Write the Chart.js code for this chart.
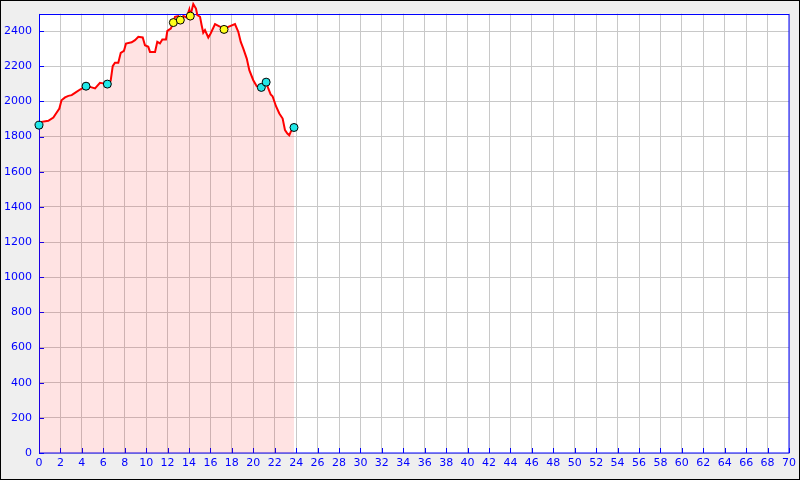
<!DOCTYPE html>
<html><head><meta charset="utf-8">
<script src="https://cdn.jsdelivr.net/npm/chart.js@4"></script>
<style>html,body{margin:0;padding:0;background:#efefef}#wrap{width:800px;height:480px}</style>
</head><body><div id="wrap"><canvas id="c" width="800" height="480"></canvas></div>
<script>
// Distance (km) and elevation (m) of the profile
const distance = [0,0.25,0.87,1.34,1.59,1.9,2.1,2.43,2.74,3.05,3.36,3.83,4.39,4.76,5.23,5.69,6.0,6.38,6.69,6.88,7.09,7.4,7.63,7.93,8.12,8.65,8.96,9.27,9.68,9.89,10.2,10.36,10.83,11.04,11.29,11.51,11.85,11.98,12.3,12.54,12.69,13.0,13.19,13.47,13.78,14.03,14.12,14.4,14.65,14.78,15.03,15.18,15.33,15.49,15.8,16.02,16.43,16.83,17.27,17.67,18.29,18.6,18.83,19.07,19.39,19.63,20.0,20.32,20.75,21.1,21.2,21.4,21.62,21.8,22.12,22.43,22.74,22.96,23.18,23.36,23.5,23.8];
const elevation = [1865,1884,1890,1909,1932,1960,2007,2023,2032,2036,2049,2068,2087,2083,2074,2106,2103,2099,2118,2201,2220,2220,2277,2288,2330,2337,2349,2368,2364,2320,2311,2282,2282,2339,2330,2353,2353,2402,2415,2449,2482,2486,2463,2486,2478,2523,2486,2554,2529,2491,2482,2434,2391,2406,2364,2387,2440,2428,2410,2425,2440,2396,2339,2301,2244,2178,2121,2087,2080,2103,2110,2074,2040,2030,1973,1932,1903,1837,1818,1808,1828,1852];
// Waypoint markers
const cyanX = [0,4.39,6.38,20.75,21.2,23.8];
const cyanY = [1865,2087,2099,2080,2110,1852];
const yellowX = [12.54,13.19,14.12,17.27];
const yellowY = [2449,2463,2486,2410];
// Axis ranges / ticks
const xMin = 0, xMax = 70, xStep = 2;
const yMin = 0, yMax = 2500, yStep = 200;

const AXIS = '#0000ff';
const frame = {
  id:'frame',
  beforeDraw(chart){
    const ctx=chart.ctx; ctx.save();
    ctx.fillStyle='#efefef'; ctx.fillRect(0,0,chart.width,chart.height);
    const a=chart.chartArea;
    ctx.fillStyle='#ffffff'; ctx.fillRect(a.left,a.top,a.right-a.left,a.bottom-a.top);
    ctx.restore();
  },
  beforeDatasetsDraw(chart){
    const ctx=chart.ctx, a=chart.chartArea; ctx.save();
    ctx.strokeStyle=AXIS; ctx.lineWidth=1;
    ctx.strokeRect(Math.round(a.left)+0.5,Math.round(a.top)+0.5,Math.round(a.right-a.left)-1+0.5,Math.round(a.bottom-a.top)-0.5);
    ctx.beginPath();
    const xs=chart.scales.x, ys=chart.scales.y;
    xs.ticks.forEach(t=>{const p=Math.round(xs.getPixelForValue(t.value))+0.5; ctx.moveTo(p,a.bottom); ctx.lineTo(p,a.bottom-5);});
    ys.ticks.forEach(t=>{const p=Math.round(ys.getPixelForValue(t.value))+0.5; ctx.moveTo(a.left,p); ctx.lineTo(a.left+5,p);});
    ctx.stroke();
    ctx.restore();
  },
  afterDraw(chart){
    const ctx=chart.ctx; ctx.save();
    ctx.strokeStyle='#000'; ctx.lineWidth=1; ctx.strokeRect(0.5,0.5,chart.width-1,chart.height-1);
    ctx.restore();
  }
};

const pts=(xa,ya)=>xa.map((x,i)=>({x:x,y:ya[i]}));
new Chart(document.getElementById('c'),{
  type:'line',
  data:{datasets:[
    {data:pts(cyanX,cyanY),type:'scatter',showLine:false,pointRadius:4,pointBackgroundColor:'#22e8e8',pointBorderColor:'#000',pointBorderWidth:1,clip:false,order:0},
    {data:pts(yellowX,yellowY),type:'scatter',showLine:false,pointRadius:4,pointBackgroundColor:'#ffff1a',pointBorderColor:'#000',pointBorderWidth:1,clip:false,order:0},
    {data:pts(distance,elevation),borderColor:'#ff0000',borderWidth:2,pointRadius:0,tension:0,fill:'origin',backgroundColor:'rgba(255,0,0,0.11)',clip:false,order:1}
  ]},
  plugins:[frame],
  options:{
    responsive:false,animation:false,
    layout:{padding:{top:13,right:11,left:0,bottom:0}},
    plugins:{legend:{display:false},tooltip:{enabled:false}},
    scales:{
      x:{type:'linear',min:xMin,max:xMax,
        ticks:{stepSize:xStep,color:AXIS,font:{family:'DejaVu Sans',size:11},padding:4,maxRotation:0,autoSkip:false,callback:v=>String(v)},
        grid:{color:'#c8c8c8',drawTicks:false,lineWidth:1},border:{display:false},
        afterFit(s){s.height=27;}},
      y:{type:'linear',min:yMin,max:yMax,
        afterBuildTicks(s){s.ticks=s.ticks.filter(t=>t.value%yStep===0);},
        ticks:{stepSize:yStep,color:AXIS,font:{family:'DejaVu Sans',size:11},padding:7,callback:v=>String(v)},
        grid:{color:'#c8c8c8',drawTicks:false,lineWidth:1},border:{display:false},
        afterFit(s){s.width=39;}}
    }
  }
});
</script></body></html>
